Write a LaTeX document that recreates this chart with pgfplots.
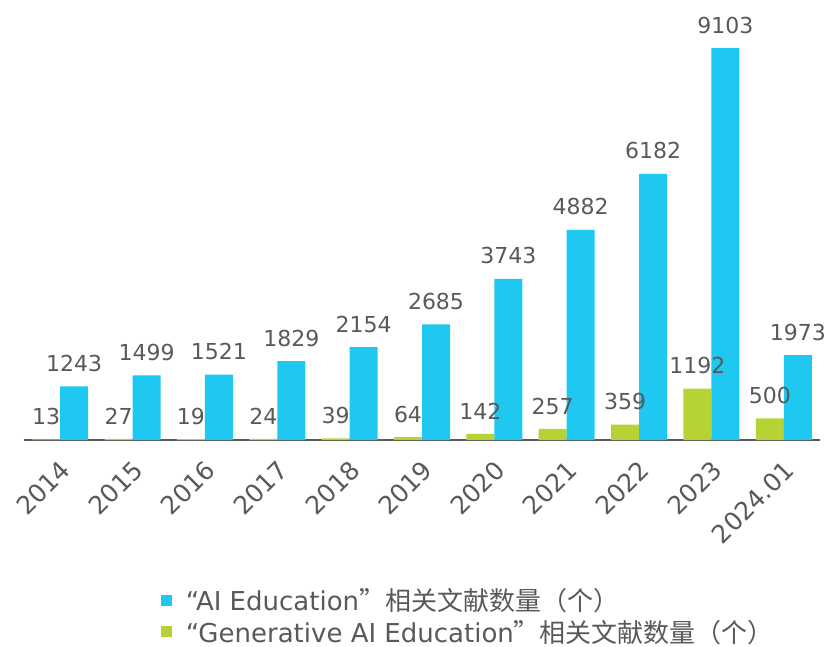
\documentclass[border=0pt]{standalone}
\usepackage{fontspec}
\setmainfont{DejaVu Sans}
\newfontfamily\cjk{Noto Sans CJK SC}
\usepackage{pgfplots}
\pgfplotsset{compat=1.18}
\definecolor{aiblue}{HTML}{1FC8F0}
\definecolor{gengreen}{HTML}{B5D334}
\definecolor{txtgray}{HTML}{595959}
\begin{document}
\begin{tikzpicture}[x=1pt,y=1pt]
\useasboundingbox (0,0) rectangle (827,646);
\begin{axis}[
  at={(24pt,206pt)}, anchor=south west,
  scale only axis, width=796pt, height=430pt,
  xmin=-0.5, xmax=10.5, ymin=0, ymax=9986,
  ybar=0pt, bar width=28pt,
  /pgf/number format/.cd, 1000 sep={}, assume math mode=true, /pgfplots/.cd,
  axis x line*=bottom, axis y line=none,
  axis line style={draw=txtgray, line width=1.6pt},
  xtick=data,
  xticklabels={2014,2015,2016,2017,2018,2019,2020,2021,2022,2023,2024.01},
  major tick length=0pt,
  x tick label style={rotate=45, anchor=north east, font=\fontsize{25}{29}\selectfont, text=txtgray, xshift=-10.5pt, yshift=-9pt},
  ytick=\empty,
  nodes near coords,
  nodes near coords style={font=\fontsize{22}{26}\selectfont, text=txtgray, yshift=11pt},
  reverse legend,
  legend style={at={(0.168,-0.335)}, anchor=north west, draw=none, fill=none,
    font=\fontsize{26}{30}\selectfont, text=txtgray, row sep=4pt,
    /tikz/every odd column/.append style={column sep=12pt}},
  legend cell align=left,
  legend image code/.code={\fill (0pt,-5.5pt) rectangle (11pt,5.5pt);},
  clip=false,
]
\addplot[fill=gengreen, draw=none] coordinates {(0,13) (1,27) (2,19) (3,24) (4,39) (5,64) (6,142) (7,257) (8,359) (9,1192) (10,500)};
\addlegendentry{“Generative AI Education{\cjk ”相关文献数量（个）}}
\addplot[fill=aiblue, draw=none] coordinates {(0,1243) (1,1499) (2,1521) (3,1829) (4,2154) (5,2685) (6,3743) (7,4882) (8,6182) (9,9103) (10,1973)};
\addlegendentry{“AI Education{\cjk ”相关文献数量（个）}}
\end{axis}
\end{tikzpicture}
\end{document}
